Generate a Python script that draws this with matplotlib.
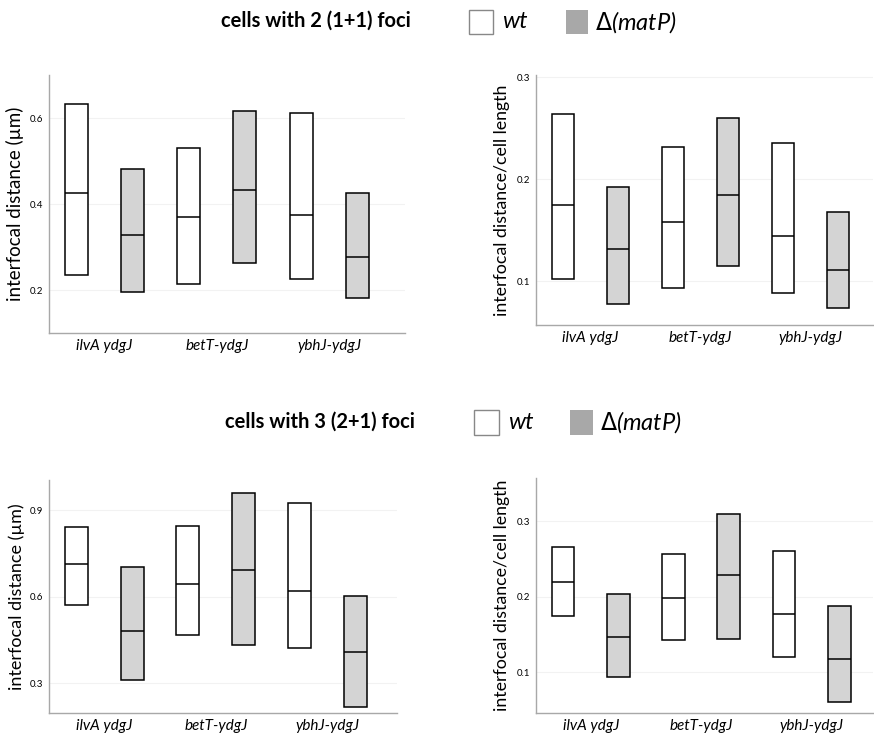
import matplotlib
matplotlib.use("Agg")
import matplotlib.pyplot as plt
from matplotlib.patches import Rectangle

plt.rcParams['font.family'] = ['Lato', 'DejaVu Sans']

categories = ["ilvA ydgJ", "betT-ydgJ", "ybhJ-ydgJ"]

# Panel A: cells with 2 (1+1) foci, interfocal distance (µm)
a_wt_low = [0.235, 0.213, 0.226]
a_wt_med = [0.425, 0.369, 0.375]
a_wt_high = [0.633, 0.530, 0.611]
a_mat_low = [0.196, 0.262, 0.181]
a_mat_med = [0.327, 0.432, 0.277]
a_mat_high = [0.482, 0.617, 0.425]

# Panel B: cells with 2 (1+1) foci, interfocal distance / cell length
b_wt_low = [0.102, 0.093, 0.088]
b_wt_med = [0.175, 0.158, 0.144]
b_wt_high = [0.264, 0.231, 0.235]
b_mat_low = [0.078, 0.115, 0.0735]
b_mat_med = [0.131, 0.184, 0.111]
b_mat_high = [0.192, 0.260, 0.168]

# Panel C: cells with 3 (2+1) foci, interfocal distance (µm)
c_wt_low = [0.572, 0.466, 0.421]
c_wt_med = [0.714, 0.643, 0.620]
c_wt_high = [0.841, 0.846, 0.926]
c_mat_low = [0.309, 0.433, 0.217]
c_mat_med = [0.481, 0.694, 0.407]
c_mat_high = [0.704, 0.959, 0.603]

# Panel D: cells with 3 (2+1) foci, interfocal distance / cell length
d_wt_low = [0.175, 0.142, 0.120]
d_wt_med = [0.219, 0.198, 0.177]
d_wt_high = [0.266, 0.256, 0.261]
d_mat_low = [0.093, 0.144, 0.061]
d_mat_med = [0.146, 0.229, 0.118]
d_mat_high = [0.203, 0.310, 0.187]

W, H = 874, 735
fig = plt.figure(figsize=(W / 100, H / 100), dpi=100)

WT_COLOR = "white"
MAT_COLOR = "#d4d4d4"
BOX_W = 0.41


def px_axes(left, right, top, bottom):
    return fig.add_axes([left / W, 1 - bottom / H, (right - left) / W, (bottom - top) / H])


def draw_panel(ax, wt, mat, ylim, yticks, xlim, ylabel, labelpad, ylsize):
    for g, (stats, color) in enumerate([(wt, WT_COLOR), (mat, MAT_COLOR)]):
        low, med, high = stats
        for c in range(len(categories)):
            x = 2 * c + g
            ax.bar(x, high[c] - low[c], bottom=low[c], width=BOX_W,
                   facecolor=color, edgecolor="black", linewidth=1.1, zorder=3)
            ax.hlines(med[c], x - BOX_W / 2, x + BOX_W / 2, color="black",
                      linewidth=1.1, zorder=4)
    ax.set_xlim(*xlim)
    ax.set_ylim(*ylim)
    ax.set_yticks(yticks)
    ax.set_yticklabels([f"{t:g}" for t in yticks], fontsize=7)
    ax.set_xticks([0.5, 2.5, 4.5])
    ax.set_xticklabels(categories, fontsize=11, fontstyle="italic")
    ax.tick_params(axis="both", length=0, pad=4)
    ax.tick_params(axis="x", pad=4)
    ax.set_ylabel(ylabel, fontsize=ylsize, labelpad=labelpad)
    for s in ["top", "right"]:
        ax.spines[s].set_visible(False)
    for s in ["left", "bottom"]:
        ax.spines[s].set_color("#a8a8a8")
        ax.spines[s].set_linewidth(1.0)
    ax.grid(axis="y", color="#f2f2f2", linewidth=0.8, zorder=0)
    ax.set_axisbelow(True)


ax1 = px_axes(49, 405, 75, 333)
draw_panel(ax1, (a_wt_low, a_wt_med, a_wt_high), (a_mat_low, a_mat_med, a_mat_high),
           (0.1, 0.7), [0.2, 0.4, 0.6], (-0.49, 5.85), "interfocal distance (µm)", 4, 13.5)

ax2 = px_axes(536, 873, 75, 325)
draw_panel(ax2, (b_wt_low, b_wt_med, b_wt_high), (b_mat_low, b_mat_med, b_mat_high),
           (0.057, 0.302), [0.1, 0.2, 0.3], (-0.49, 5.64), "interfocal distance/cell length", 5, 12.8)

ax3 = px_axes(49, 397, 480, 713)
draw_panel(ax3, (c_wt_low, c_wt_med, c_wt_high), (c_mat_low, c_mat_med, c_mat_high),
           (0.196, 1.005), [0.3, 0.6, 0.9], (-0.49, 5.75), "interfocal distance (µm)", 4, 13)

ax4 = px_axes(536, 873, 478, 713)
draw_panel(ax4, (d_wt_low, d_wt_med, d_wt_high), (d_mat_low, d_mat_med, d_mat_high),
           (0.046, 0.357), [0.1, 0.2, 0.3], (-0.49, 5.61), "interfocal distance/cell length", 5, 12.8)


def header(title, tx, ty, sq1x, sq2x, sqtop, sqsize):
    fig.text(tx / W, 1 - ty / H, title, fontsize=14.5, fontweight="bold",
             ha="left", va="center")
    fig.patches.append(Rectangle((sq1x / W, 1 - (sqtop + sqsize) / H), sqsize / W, sqsize / H,
                                 transform=fig.transFigure, facecolor="white",
                                 edgecolor="#888888", linewidth=1.0))
    fig.text((sq1x + sqsize + 9) / W, 1 - (sqtop + sqsize / 2) / H, "wt", fontsize=17,
             fontstyle="italic", ha="left", va="center")
    fig.patches.append(Rectangle((sq2x / W, 1 - (sqtop + sqsize) / H), (sqsize - 2) / W, sqsize / H,
                                 transform=fig.transFigure, facecolor="#a8a8a8",
                                 edgecolor="none"))
    fig.text((sq2x + sqsize + 5) / W, 1 - (sqtop + sqsize / 2) / H, r"$\mathrm{\Delta}$(matP)",
             fontsize=17, fontstyle="italic", ha="left", va="center")


header("cells with 2 (1+1) foci", 221, 21, 469, 566, 10, 24)
header("cells with 3 (2+1) foci", 225, 422, 474, 570, 410, 25)

fig.savefig("out.png", dpi=100, facecolor="white")
